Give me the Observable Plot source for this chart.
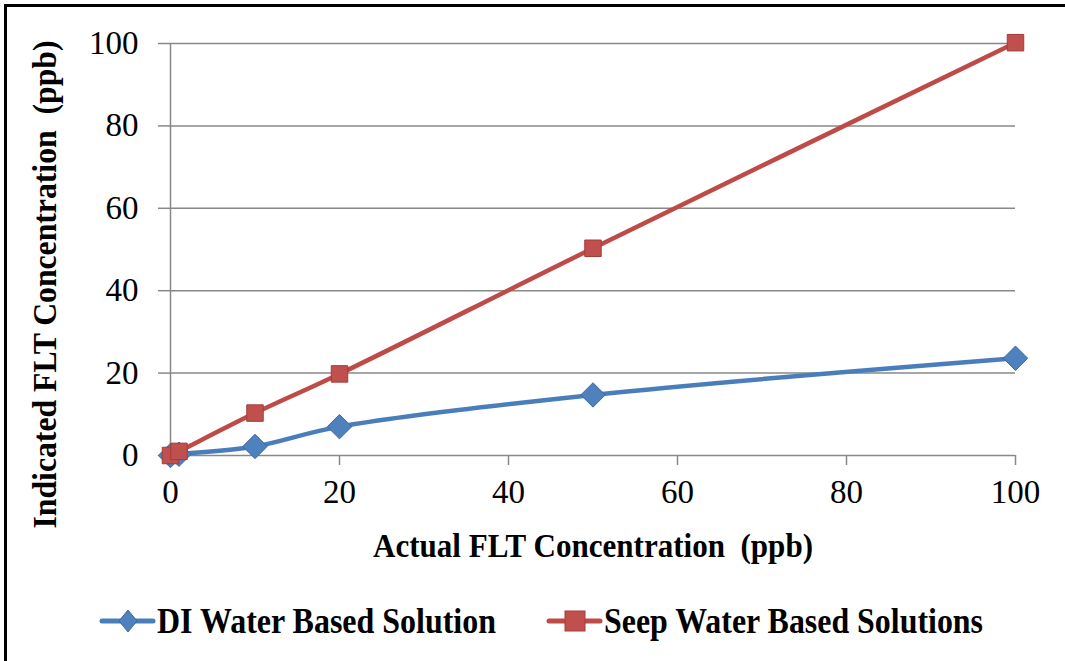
<!DOCTYPE html>
<html>
<head>
<meta charset="utf-8">
<script src="https://cdn.jsdelivr.net/npm/d3@7"></script>
<script src="https://cdn.jsdelivr.net/npm/@observablehq/plot@0.6"></script>
<style>
  html, body { margin: 0; padding: 0; background: #fff; }
  #wrap { position: relative; width: 1065px; height: 661px; overflow: hidden; background: #fff; }
  #frame { position: absolute; left: 4px; top: 4px; width: 1100px; height: 700px;
           border-top: 3px solid #000; border-left: 3px solid #000; }
  #chart { position: absolute; left: 0; top: 0; }
  #legend { position: absolute; left: 0; top: 596px; }
</style>
</head>
<body>
<div id="wrap">
  <div id="frame"></div>
  <div id="chart"></div>
  <svg id="legend" width="1065" height="50"></svg>
</div>
<script>
const actual = [0, 1, 10, 20, 50, 100];
const diValues = [0, 0.3, 2.2, 7.0, 14.7, 23.6];
const seepValues = [0, 1.0, 10.3, 19.8, 50.3, 100.2];
const seriesNames = ["DI Water Based Solution", "Seep Water Based Solutions"];
const xTicks = [0, 20, 40, 60, 80, 100];
const yTicks = [0, 20, 40, 60, 80, 100];
const xTitle = "Actual FLT Concentration  (ppb)";
const yTitle = "Indicated FLT Concentration  (ppb)";

const di = actual.map((x, i) => ({x, y: diValues[i]}));
const seep = actual.map((x, i) => ({x, y: seepValues[i]}));

const blue = "#4a7ebb", blueFill = "#4f81bd", blueStroke = "#3b6aa3";
const red = "#be4b48", redFill = "#c0504d", redStroke = "#a33c39";
const serif = "Liberation Serif, Times New Roman, serif";

const chart = Plot.plot({
  width: 1065,
  height: 580,
  marginLeft: 170,
  marginRight: 50,
  marginTop: 43,
  marginBottom: 125,
  style: { fontFamily: serif, background: "transparent" },
  x: { domain: [0, 100], label: null },
  y: { domain: [0, 100], label: null },
  marks: [
    Plot.gridY(yTicks.filter(d => d > 0), { stroke: "#888", strokeOpacity: 1, strokeWidth: 1.5 }),
    Plot.axisX({ ticks: xTicks, tickSize: 10, tickPadding: 14, fontSize: 33, stroke: "#888", strokeWidth: 1.5, fill: "#000", label: null }),
    Plot.axisY({ ticks: yTicks, tickSize: 12, tickPadding: 20, fontSize: 33, stroke: "#888", strokeWidth: 1.5, fill: "#000", label: null }),
    Plot.ruleY([0], { stroke: "#888", strokeWidth: 1.5 }),
    Plot.ruleX([0], { stroke: "#888", strokeWidth: 1.5 }),
    Plot.line(di, { x: "x", y: "y", stroke: blue, strokeWidth: 4.5, curve: "catmull-rom" }),
    Plot.line(seep, { x: "x", y: "y", stroke: red, strokeWidth: 4.5, curve: "catmull-rom" }),
    Plot.dot(di, { x: "x", y: "y", symbol: "diamond2", r: 11, fill: blueFill, stroke: blueStroke, strokeWidth: 1 }),
    Plot.dot(seep, { x: "x", y: "y", symbol: "square2", r: 10.5, fill: redFill, stroke: redStroke, strokeWidth: 1 }),
    Plot.text([xTitle], { frameAnchor: "bottom", dy: 91, fontSize: 34, fontWeight: "bold", fill: "#000", lineAnchor: "middle", text: d => d }),
    Plot.text([yTitle], { frameAnchor: "left", dx: -125, dy: 35, rotate: -90, fontSize: 34, fontWeight: "bold", fill: "#000", textAnchor: "middle", lineAnchor: "middle", text: d => d })
  ]
});
document.getElementById("chart").appendChild(chart);

// compress titles horizontally to match the reference's condensed lettering
chart.querySelectorAll("text").forEach(t => {
  if (t.textContent === xTitle) { t.setAttribute("textLength", 440); t.setAttribute("lengthAdjust", "spacingAndGlyphs"); }
  if (t.textContent === yTitle) { t.setAttribute("textLength", 488); t.setAttribute("lengthAdjust", "spacingAndGlyphs"); }
});

// legend
const legend = d3.select("#legend");
const items = [
  { name: seriesNames[0], x0: 100, len: 339, color: blue, fill: blueFill, stroke: blueStroke, shape: "diamond" },
  { name: seriesNames[1], x0: 547, len: 379, color: red, fill: redFill, stroke: redStroke, shape: "square" }
];
const cy = 25;
for (const it of items) {
  const g = legend.append("g");
  g.append("line").attr("x1", it.x0 + 2).attr("x2", it.x0 + 53).attr("y1", cy).attr("y2", cy)
    .attr("stroke", it.color).attr("stroke-width", 5).attr("stroke-linecap", "round");
  const mx = it.x0 + 28;
  if (it.shape === "diamond") {
    g.append("polygon").attr("points", `${mx},${cy-11} ${mx+9},${cy} ${mx},${cy+11} ${mx-9},${cy}`)
      .attr("fill", it.fill).attr("stroke", it.stroke);
  } else {
    g.append("rect").attr("x", mx - 10).attr("y", cy - 10).attr("width", 20).attr("height", 20)
      .attr("fill", it.fill).attr("stroke", it.stroke);
  }
  g.append("text").attr("x", it.x0 + 57).attr("y", cy + 12)
    .attr("font-family", serif).attr("font-weight", "bold").attr("font-size", 36)
    .attr("textLength", it.len).attr("lengthAdjust", "spacingAndGlyphs")
    .text(it.name);
}
</script>
</body>
</html>
